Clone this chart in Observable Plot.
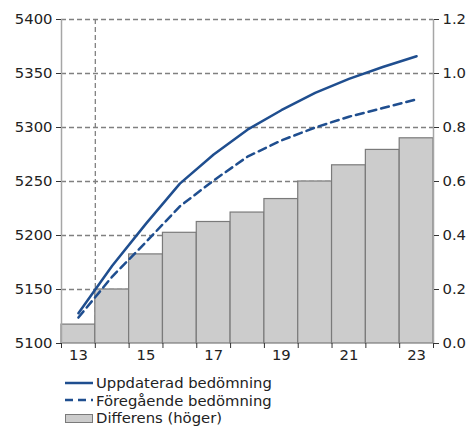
<!DOCTYPE html>
<html>
<head>
<meta charset="utf-8">
<script src="https://cdn.jsdelivr.net/npm/d3@7"></script>
<script src="https://cdn.jsdelivr.net/npm/@observablehq/plot@0.6"></script>
<style>
  body { margin: 0; background: #fff; font-family: "DejaVu Sans", Verdana, sans-serif; }
  #legend { padding-left: 65px; margin-top: 6px; font-size: 14.8px; color: #222; }
  .row { display: flex; align-items: center; height: 17.5px; }
  .row svg { margin-right: 3px; }
</style>
</head>
<body>
<div id="chart"></div>
<div id="legend"></div>
<script>
const years = [13, 14, 15, 16, 17, 18, 19, 20, 21, 22, 23];
const uppdaterad = [5128, 5172, 5211, 5248, 5275, 5298, 5316, 5332, 5345, 5356, 5366];
const foregaende = [5124, 5162, 5194, 5227, 5251, 5273, 5288, 5300, 5310, 5318, 5326];
const differens = [0.07, 0.20, 0.33, 0.41, 0.45, 0.485, 0.535, 0.60, 0.66, 0.717, 0.76];
const leftTicks = [5100, 5150, 5200, 5250, 5300, 5350, 5400];
const rightTicks = [0.0, 0.2, 0.4, 0.6, 0.8, 1.0, 1.2];
const xLabels = [13, 15, 17, 19, 21, 23];
const seriesNames = ["Uppdaterad bedömning", "Föregående bedömning", "Differens (höger)"];

const blue = "#1f4e8f";
const gray = "#808080";
const fs = 14.8;

// right axis (0–1.2) mapped onto left axis (5100–5400)
const r2l = d3.scaleLinear().domain([0, 1.2]).range([5100, 5400]);

const lineData = years.flatMap((y, i) => [
  {year: y, value: uppdaterad[i], series: seriesNames[0]},
  {year: y, value: foregaende[i], series: seriesNames[1]}
]);
const barData = years.map((y, i) => ({year: y, diff: differens[i]}));
const bounds = d3.range(12.5, 24, 1);

const chart = Plot.plot({
  width: 471,
  height: 368,
  marginTop: 19,
  marginBottom: 25,
  marginLeft: 61,
  marginRight: 38,
  style: {fontFamily: "DejaVu Sans, Verdana, sans-serif", fontSize: fs + "px", color: "#222"},
  x: {domain: [12.5, 23.5]},
  y: {domain: [5100, 5400]},
  marks: [
    Plot.gridY(leftTicks.slice(1), {stroke: gray, strokeOpacity: 1, strokeWidth: 1.3, strokeDasharray: "5,3"}),
    Plot.ruleX([13.5], {stroke: gray, strokeWidth: 1.3, strokeDasharray: "5,3"}),
    Plot.rect(barData, {x1: d => d.year - 0.5, x2: d => d.year + 0.5, y1: 5100, y2: d => r2l(d.diff), fill: "#cccccc", stroke: "#7a7a7a", strokeWidth: 1.2}),
    Plot.ruleX([12.5, 23.5], {stroke: "#a6a6a6", strokeWidth: 1.5}),
    Plot.line(lineData.filter(d => d.series === seriesNames[0]), {x: "year", y: "value", stroke: blue, strokeWidth: 2.5}),
    Plot.line(lineData.filter(d => d.series === seriesNames[1]), {x: "year", y: "value", stroke: blue, strokeWidth: 2.5, strokeDasharray: "8,5"}),
    Plot.axisY(leftTicks, {anchor: "left", tickSize: 5, tickPadding: 4, stroke: "#333", fill: "#222", fontSize: fs, label: null, tickFormat: d => String(d)}),
    Plot.axisY(rightTicks.map(r2l), {anchor: "right", tickSize: 5, tickPadding: 4, stroke: "#333", fill: "#222", fontSize: fs, label: null, tickFormat: v => r2l.invert(v).toFixed(1)}),
    Plot.axisX(bounds, {anchor: "bottom", tickSize: 5, stroke: "#333", tickFormat: () => "", label: null}),
    Plot.axisX(xLabels, {anchor: "bottom", tickSize: 0, tickPadding: 6, fill: "#222", fontSize: fs, label: null, tickFormat: d => String(d)})
  ]
});
document.getElementById("chart").appendChild(chart);

const legend = document.getElementById("legend");
const swatches = [
  `<svg width="28" height="12"><line x1="0" y1="6" x2="28" y2="6" stroke="${blue}" stroke-width="2.5"/></svg>`,
  `<svg width="28" height="12"><line x1="0" y1="6" x2="28" y2="6" stroke="${blue}" stroke-width="2.5" stroke-dasharray="8,5"/></svg>`,
  `<svg width="28" height="12"><rect x="0.5" y="2.5" width="27" height="8" fill="#cccccc" stroke="#7a7a7a"/></svg>`
];
seriesNames.forEach((name, i) => {
  const row = document.createElement("div");
  row.className = "row";
  row.innerHTML = swatches[i] + `<span>${name}</span>`;
  legend.appendChild(row);
});
</script>
</body>
</html>
